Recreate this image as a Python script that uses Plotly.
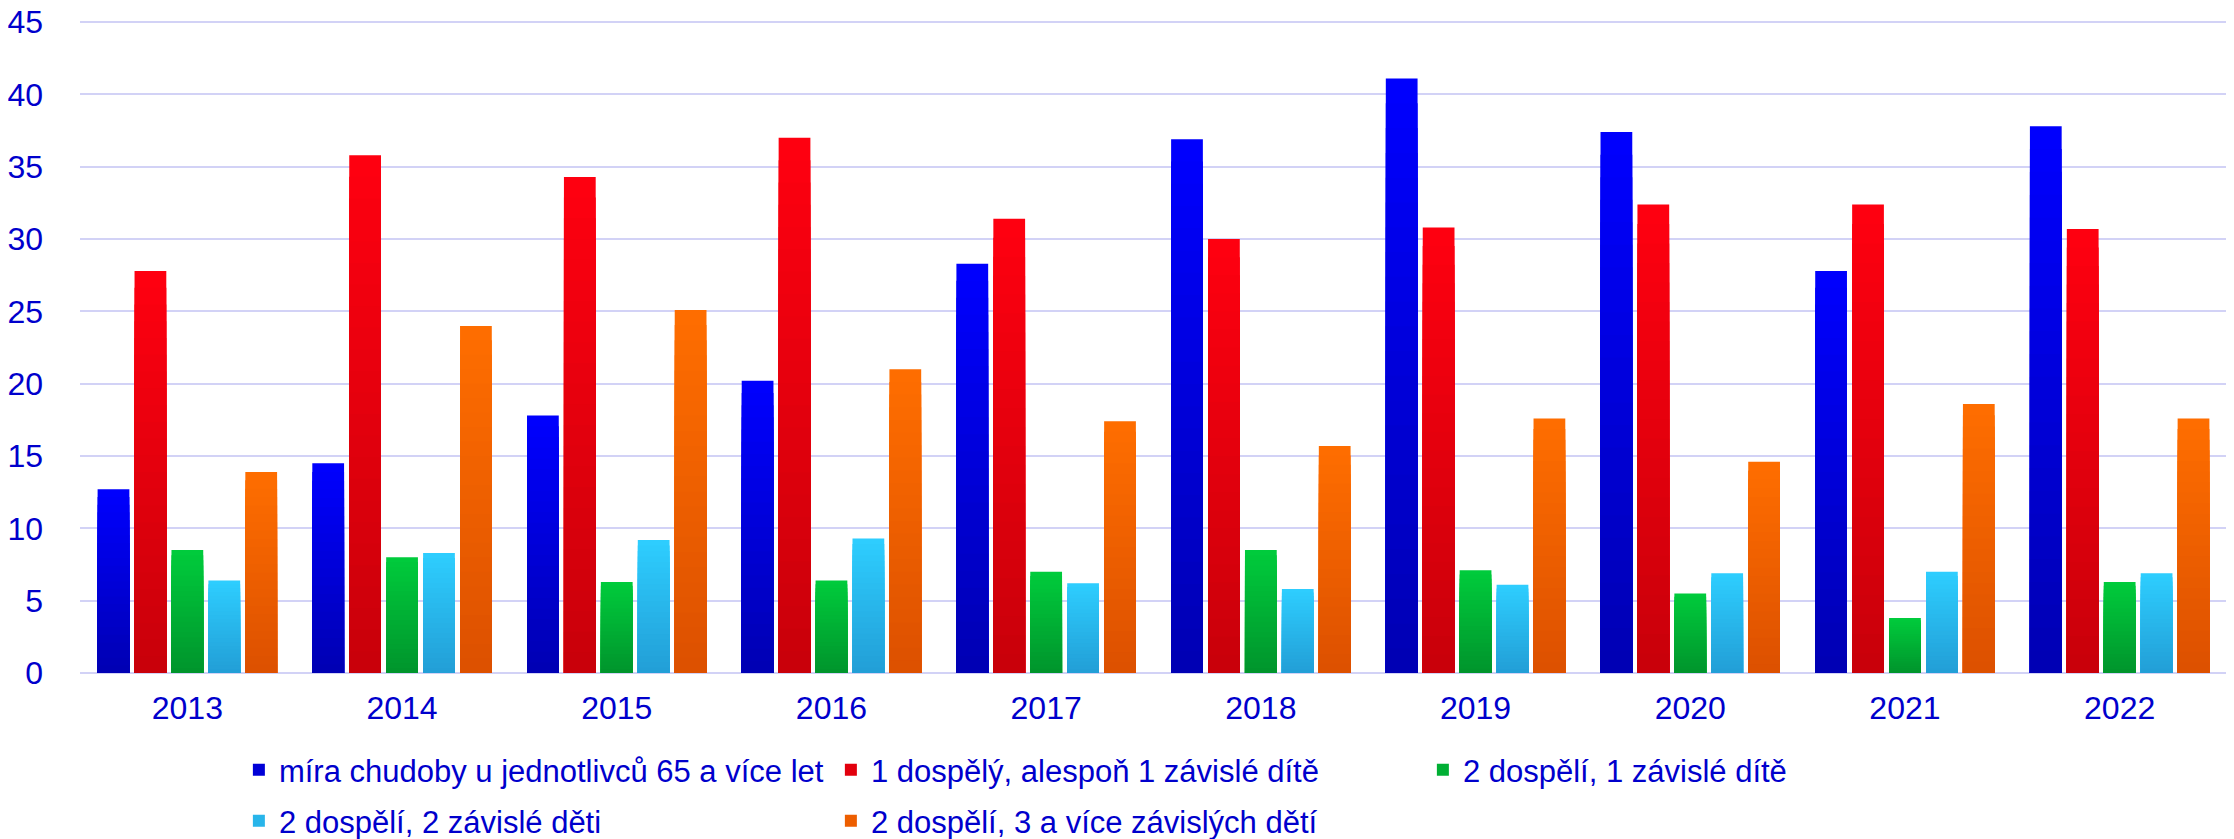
import plotly.graph_objects as go

years = ["2013", "2014", "2015", "2016", "2017", "2018", "2019", "2020", "2021", "2022"]

senior_65 = [12.7, 14.5, 17.8, 20.2, 28.3, 36.9, 41.1, 37.4, 27.8, 37.8]
one_adult_child = [27.8, 35.8, 34.3, 37.0, 31.4, 30.0, 30.8, 32.4, 32.4, 30.7]
two_adults_one_child = [8.5, 8.0, 6.3, 6.4, 7.0, 8.5, 7.1, 5.5, 3.8, 6.3]
two_adults_two_children = [6.4, 8.3, 9.2, 9.3, 6.2, 5.8, 6.1, 6.9, 7.0, 6.9]
two_adults_three_plus = [13.9, 24.0, 25.1, 21.0, 17.4, 15.7, 17.6, 14.6, 18.6, 17.6]

y_ticks = [0, 5, 10, 15, 20, 25, 30, 35, 40, 45]

series_names = [
    "míra chudoby u jednotlivců 65 a více let",
    "1 dospělý, alespoň 1 závislé dítě",
    "2 dospělí, 1 závislé dítě",
    "2 dospělí, 2 závislé děti",
    "2 dospělí, 3 a více závislých dětí",
]
series_values = [senior_65, one_adult_child, two_adults_one_child,
                 two_adults_two_children, two_adults_three_plus]

# (top colour, bottom colour) of the vertical gradient in each bar
GRADIENTS = [
    ((0, 0, 255), (0, 0, 178)),
    ((255, 0, 16), (200, 0, 10)),
    ((0, 204, 60), (0, 148, 44)),
    ((46, 206, 255), (34, 158, 214)),
    ((255, 110, 0), (220, 80, 0)),
]

TEXT_COLOR = "#0000CC"
GRID_COLOR = "#D2D2F6"
FONT_FAMILY = "Arial, Liberation Sans, sans-serif"
FONT_SIZE = 32
STEPS = 24


def _mix(top, bottom, t):
    # t = 0 at the bottom of the bar, 1 at the top
    r, g, b = (int(round(bottom[k] + (top[k] - bottom[k]) * t)) for k in range(3))
    return f"rgb({r},{g},{b})"


fig = go.Figure()

# gradient: overlapping bars in the same slot, tallest (brightest) first,
# each shorter one painted darker on top of it
for idx, (name, vals) in enumerate(zip(series_names, series_values)):
    top, bottom = GRADIENTS[idx]
    for s in range(STEPS):
        frac = (STEPS - s) / STEPS
        fig.add_trace(go.Bar(
            x=years,
            y=[v * frac for v in vals],
            offsetgroup=str(idx),
            legendgroup=str(idx),
            legend="legend" if idx < 3 else "legend2",
            name=name,
            showlegend=(s == STEPS // 2),
            marker=dict(color=_mix(top, bottom, frac - 0.5 / STEPS), line=dict(width=0)),
            customdata=vals,
            hoverinfo="skip" if s else None,
            hovertemplate=f"{name}<br>%{{x}}: %{{customdata}}<extra></extra>",
        ))

legend_style = dict(
    orientation="h",
    x=0.074, xanchor="left",
    yanchor="top",
    entrywidth=547,
    font=dict(size=31, color=TEXT_COLOR),
    bgcolor="rgba(0,0,0,0)",
)

# the page body has an 8px margin, so the figure is sized/offset to compensate
fig.update_layout(
    template="none",
    width=2226, height=831,
    barmode="group",
    bargap=0.14,
    bargroupgap=0.14,
    paper_bgcolor="white",
    plot_bgcolor="white",
    font=dict(family=FONT_FAMILY, size=FONT_SIZE, color=TEXT_COLOR),
    margin=dict(l=72, r=7, t=12, b=166, autoexpand=False),
    legend=dict(y=-0.1074, **legend_style),
    legend2=dict(y=-0.1856, **legend_style),
    xaxis=dict(
        automargin=False,
        dtick=1,
        showgrid=False,
        showline=False,
        zeroline=False,
        ticks="",
        tickfont=dict(size=FONT_SIZE, color=TEXT_COLOR),
        ticklabelstandoff=13,
    ),
    yaxis=dict(
        automargin=False,
        range=[0, 45.15],
        tickvals=y_ticks,
        showgrid=True,
        gridcolor=GRID_COLOR,
        gridwidth=2,
        zeroline=True,
        zerolinecolor=GRID_COLOR,
        zerolinewidth=2,
        showline=False,
        ticks="",
        ticklabeloverflow="allow",
        tickfont=dict(size=FONT_SIZE, color=TEXT_COLOR),
        ticklabelstandoff=36,
    ),
)

fig.write_html("out.html")
